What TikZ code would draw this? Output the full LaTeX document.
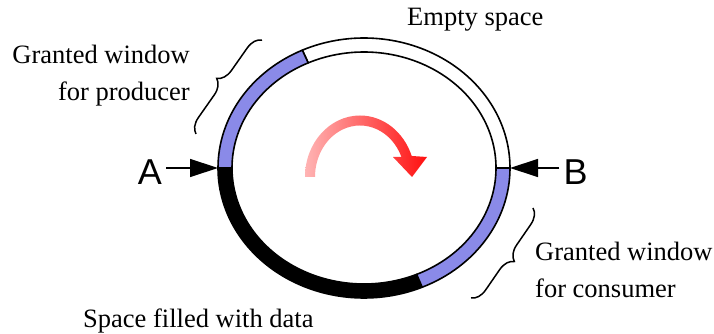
\documentclass[tikz,border=0pt]{standalone}
\usepackage{fontspec}
\setmainfont{Liberation Serif}
\newfontfamily\arialfont{Liberation Sans}
\usepackage{tikz}
\usetikzlibrary{arrows.meta, positioning, calc, decorations.pathreplacing}
\definecolor{winblue}{HTML}{8A8AE8}
\definecolor{flowpink}{HTML}{FFB4B4}
\definecolor{flowred}{HTML}{FF1010}

\begin{document}
\begin{tikzpicture}[x=1pt, y=1pt,
  lbl/.style={font=\fontsize{26.5}{37}\selectfont, inner sep=0pt},
  endlbl/.style={font=\arialfont\fontsize{36}{40}\selectfont, inner sep=4pt},
  seg/.style={draw=black, line width=1.6pt, line join=round},
  ptr/.style={-{Triangle[length=28pt, width=18pt]}, line width=1.3pt},
  brc/.style={decorate, decoration={brace, amplitude=15pt}, line width=1.5pt}
]
\useasboundingbox (0,0) rectangle (714,334);

% ring of the buffer
\coordinate (ctr) at (364,166);
\foreach \a/\b/\c in {0/115/white, 115/180/winblue, 180/293.5/black, 293.5/360/winblue}{
  \draw[seg, fill=\c] ($(ctr)+(\a:146 and 130)$)
    arc[start angle=\a, end angle=\b, x radius=146, y radius=130]
    -- ($(ctr)+(\b:132 and 116)$)
    arc[start angle=\b, end angle=\a, x radius=132, y radius=116] -- cycle;
}
\coordinate (ringW) at ($(ctr)+(180:146 and 130)$);
\coordinate (ringE) at ($(ctr)+(0:146 and 130)$);

% turning arrow
\coordinate (turn) at (360,157);
\shade[left color=flowpink, middle color=flowred!85, right color=flowred]
  ($(turn)+(180:55 and 61.5)$)
  arc[start angle=180, end angle=20, x radius=55, y radius=61.5]
  -- (427,177) -- (412,157) -- (393,177)
  -- ($(turn)+(23:45 and 51.5)$)
  arc[start angle=23, end angle=180, x radius=45, y radius=51.5] -- cycle;

% pointers A and B
\node[endlbl, anchor=base] (ptrA) at (150,149) {A};
\node[endlbl, anchor=base] (ptrB) at (575.5,149) {B};
\draw[ptr] (ptrA.east |- ringW) -- (ringW);
\draw[ptr] (ptrB.west |- ringE) -- (ringE);

% braces
\coordinate (prodLo) at (196,200);
\coordinate (prodHi) at (262,294);
\coordinate (consHi) at (533,126);
\coordinate (consLo) at (471,36);
\draw[brc] (prodLo) -- (prodHi);
\draw[brc] (consHi) -- (consLo);

% labels
\node[lbl, anchor=north east, align=right] (prodTxt) at (190,289) {Granted window\\for producer};
\node[lbl, anchor=north west, align=left] (consTxt) at (535,92) {Granted window\\for consumer};
\node[lbl, anchor=base west] (emptyTxt) at (407,308) {Empty space};
\node[lbl, anchor=base west] (dataTxt) at (83,6) {Space filled with data};
\end{tikzpicture}
\end{document}
